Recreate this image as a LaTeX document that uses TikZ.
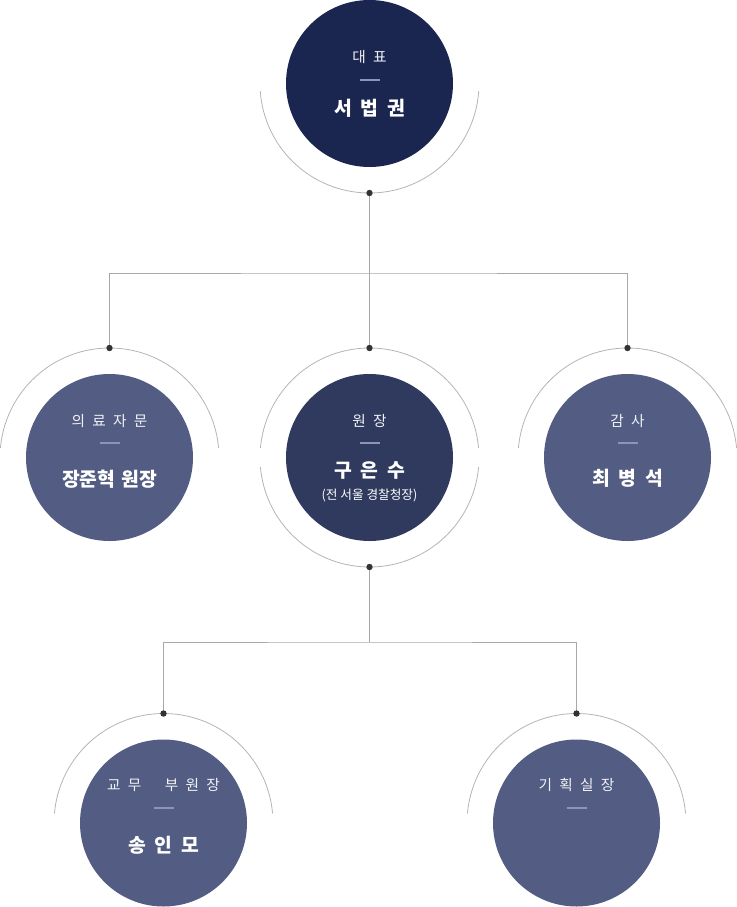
\documentclass[tikz,border=0pt]{standalone}
\usepackage{fontspec}
\setmainfont{Noto Sans CJK KR}
\usetikzlibrary{calc}
\definecolor{navyA}{HTML}{1B2650}
\definecolor{navyB}{HTML}{2F3A5E}
\definecolor{navyC}{HTML}{535D83}
\definecolor{arcgray}{HTML}{B4B4B4}
\definecolor{linegray}{HTML}{A8A8A8}
\definecolor{dotc}{HTML}{333333}
\definecolor{rulec}{HTML}{8C95B5}
\newcommand\titlegap{\hspace{0.5em}}
\newcommand\namegap{\hspace{0.45em}}
\tikzset{
 disc/.style={circle, minimum size=125.25pt, inner sep=0pt},
 ttl/.style={text=white!92!navyC, font=\fontsize{11pt}{13pt}\selectfont, inner sep=0pt},
 nm/.style={text=white, font=\bfseries\fontsize{14.5pt}{16pt}\selectfont, inner sep=0pt},
 subt/.style={text=white, font=\fontsize{9.5pt}{11pt}\selectfont, inner sep=0pt},
 ring/.style={draw=arcgray, line width=0.6pt},
 conn/.style={draw=linegray, line width=0.6pt},
 dotmark/.style={fill=dotc},
 rulel/.style={draw=rulec, line width=0.8pt}
}
\begin{document}
\begin{tikzpicture}[x=0.75pt,y=-0.75pt]
\path[use as bounding box] (0,0) rectangle (737,907);
% discs
\node[disc, fill=navyA] (ceo) at (369.5,83.5) {};
\node[disc, fill=navyC] (med) at (109.5,457.5) {};
\node[disc, fill=navyB] (dir) at (369.5,457.5) {};
\node[disc, fill=navyC] (aud) at (627.5,457.5) {};
\node[disc, fill=navyC] (vp) at (163.5,823) {};
\node[disc, fill=navyC] (plan) at (576.5,823) {};
% rings
\draw[ring] ([shift={(4:109.5)}]ceo.center) arc[start angle=4, end angle=176, radius=109.5];
\draw[ring] ([shift={(-5:109.5)}]med.center) arc[start angle=-5, end angle=-175, radius=109.5];
\draw[ring] ([shift={(-5:109.5)}]dir.center) arc[start angle=-5, end angle=-175, radius=109.5];
\draw[ring] ([shift={(5:109.5)}]dir.center) arc[start angle=5, end angle=175, radius=109.5];
\draw[ring] ([shift={(-5:109.5)}]aud.center) arc[start angle=-5, end angle=-175, radius=109.5];
\draw[ring] ([shift={(-5:109.5)}]vp.center) arc[start angle=-5, end angle=-175, radius=109.5];
\draw[ring] ([shift={(-5:109.5)}]plan.center) arc[start angle=-5, end angle=-175, radius=109.5];
% connection points
\coordinate (ceoD) at ([yshift=-109.5*0.75pt]ceo.center);
\coordinate (medT) at ([yshift=109.5*0.75pt]med.center);
\coordinate (dirT) at ([yshift=109.5*0.75pt]dir.center);
\coordinate (dirD) at ([yshift=-109.5*0.75pt]dir.center);
\coordinate (audT) at ([yshift=109.5*0.75pt]aud.center);
\coordinate (vpT) at ([yshift=109.5*0.75pt]vp.center);
\coordinate (planT) at ([yshift=109.5*0.75pt]plan.center);
\coordinate (busA) at (369.5,273);
\coordinate (busB) at (369.5,642);
% connectors
\draw[conn] (ceoD) -- (dirT);
\draw[conn] (medT) |- (busA) -| (audT);
\draw[conn] (dirD) -- (busB);
\draw[conn] (vpT) |- (busB) -| (planT);
% dots
\foreach \p in {ceoD,medT,dirT,dirD,audT,vpT,planT}
  \fill[dotmark] (\p) circle (3.2);
% texts: CEO
\node[ttl] (ceoT) at (369.5,57) {대\titlegap 표};
\draw[rulel] (359.5,80) -- (379.5,80);
\node[nm] (ceoN) at (369.5,108) {서\namegap 법\namegap 권};
% medical
\node[ttl] (medTt) at (109.5,421) {의\titlegap 료\titlegap 자\titlegap 문};
\draw[rulel] (99.5,443) -- (119.5,443);
\node[nm] (medN) at (109.5,479) {장준혁\hspace{0.3em}원장};
% director
\node[ttl] (dirTt) at (369.5,421) {원\titlegap 장};
\draw[rulel] (359.5,443) -- (379.5,443);
\node[nm] (dirN) at (369.5,470) {구\namegap 은\namegap 수};
\node[subt] (dirS) at (369.5,495) {(전 서울 경찰청장)};
% audit
\node[ttl] (audTt) at (627.5,421) {감\titlegap 사};
\draw[rulel] (617.5,443) -- (637.5,443);
\node[nm] (audN) at (627.5,478) {최\namegap 병\namegap 석};
% vice
\node[ttl] (vpTt) at (163.5,785) {교\titlegap 무\hspace{1.6em}부\titlegap 원\titlegap 장};
\draw[rulel] (153.5,808) -- (173.5,808);
\node[nm] (vpN) at (163.5,845) {송\namegap 인\namegap 모};
% planning
\node[ttl] (planTt) at (576.5,785) {기\titlegap 획\titlegap 실\titlegap 장};
\draw[rulel] (566.5,808) -- (586.5,808);
\end{tikzpicture}
\end{document}
